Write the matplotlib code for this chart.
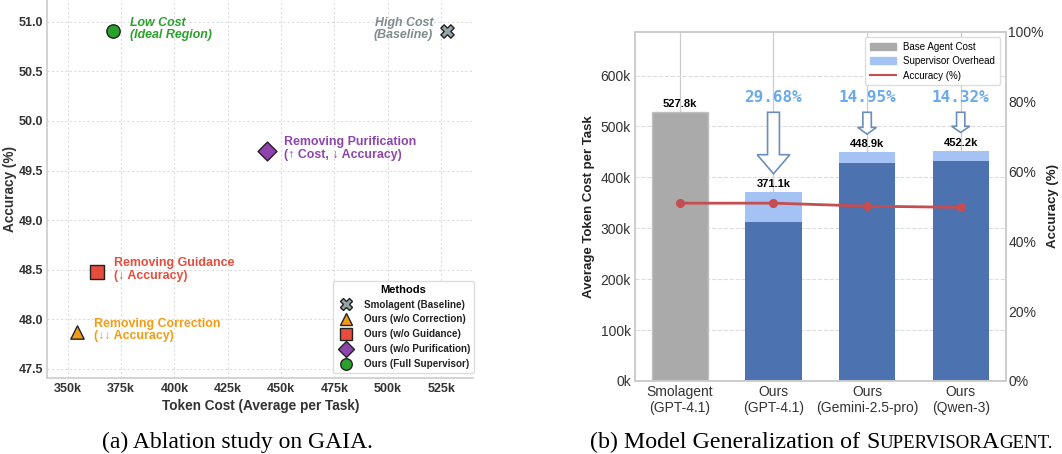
import matplotlib.pyplot as plt
from matplotlib.lines import Line2D
from matplotlib.patches import Patch, FancyArrow
from matplotlib.ticker import FuncFormatter

plt.rcParams['font.family'] = ['Liberation Sans', 'DejaVu Sans']

# ---- (a) ablation study data (token cost in k) ----
methods = ["Smolagent (Baseline)", "Ours (w/o Correction)", "Ours (w/o Guidance)",
           "Ours (w/o Purification)", "Ours (Full Supervisor)"]
abl_cost = [527.8, 354.2, 363.6, 443.3, 371.1]
abl_acc = [50.91, 47.87, 48.48, 49.70, 50.91]
abl_notes = ["High Cost\n(Baseline)", "Removing Correction\n(↓↓ Accuracy)",
             "Removing Guidance\n(↓ Accuracy)", "Removing Purification\n(↑ Cost, ↓ Accuracy)",
             "Low Cost\n(Ideal Region)"]
abl_markers = ["X", "^", "s", "D", "o"]
abl_colors = ["#95a5a6", "#f39c12", "#e74c3c", "#8e44ad", "#2ca02c"]
note_colors = ["#7f8c8d", "#f39c12", "#e74c3c", "#8e44ad", "#2ca02c"]

# ---- (b) model generalization data ----
models = ["Smolagent\n(GPT-4.1)", "Ours\n(GPT-4.1)", "Ours\n(Gemini-2.5-pro)", "Ours\n(Qwen-3)"]
base_cost = [527.8, 312.0, 428.0, 431.5]
overhead = [0.0, 59.1, 20.9, 20.7]
model_acc = [50.91, 50.91, 50.06, 49.70]
reduction = [29.68, 14.95, 14.32]

fig = plt.figure(figsize=(10.62, 4.54), dpi=100)

# ================= left panel =================
ax = fig.add_axes([0.0445, 0.168, 0.401, 0.832])
for i in range(len(methods)):
    ax.scatter(abl_cost[i], abl_acc[i], s=92, marker=abl_markers[i], c=abl_colors[i],
               edgecolors="#222222", linewidths=1, zorder=3)
    left_side = i == 0
    ax.annotate(abl_notes[i], (abl_cost[i], abl_acc[i]), xytext=(-14 if left_side else 17, 2),
                textcoords="offset pixels", ha="right" if left_side else "left", va="center",
                fontsize=8.9, fontweight="bold", color=note_colors[i],
                style="italic" if i in (0, 4) else "normal", linespacing=1.05)

ax.set_xlim(340.4, 540)
ax.set_ylim(47.41, 51.22)
ax.set_xticks(range(350, 526, 25))
ax.set_yticks([47.5, 48.0, 48.5, 49.0, 49.5, 50.0, 50.5, 51.0])
ax.xaxis.set_major_formatter(FuncFormatter(lambda v, p: f"{v:.0f}k"))
ax.yaxis.set_major_formatter(FuncFormatter(lambda v, p: f"{v:.1f}"))
ax.tick_params(axis="x", length=0, labelsize=9, colors="#333333", pad=4)
ax.tick_params(axis="y", length=0, labelsize=9, colors="#333333", pad=3)
for lab in ax.get_xticklabels() + ax.get_yticklabels():
    lab.set_fontweight("bold")
ax.grid(True, ls=(0, (2, 2)), color="#dddddd", lw=0.8)
ax.set_axisbelow(True)
for s in ["top", "right"]:
    ax.spines[s].set_visible(False)
for s in ["left", "bottom"]:
    ax.spines[s].set_color("#cccccc")
    ax.spines[s].set_linewidth(1.2)
ax.set_xlabel("Token Cost (Average per Task)", fontsize=9.8, fontweight="bold", color="#333333",
              labelpad=3)
ax.set_ylabel("Accuracy (%)", fontsize=9.8, fontweight="bold", color="#333333", labelpad=1)

handles = [Line2D([], [], ls="", marker=abl_markers[i], markersize=8.3, markerfacecolor=abl_colors[i],
                  markeredgecolor="#222222", markeredgewidth=1) for i in range(len(methods))]
leg = ax.legend(handles, methods, loc="lower right", bbox_to_anchor=(1.003, 0.012), borderaxespad=0,
                title="Methods", fontsize=7.1, title_fontsize=8, handletextpad=0.8,
                labelspacing=0.5, framealpha=1, edgecolor="#dddddd", borderpad=0.4)
leg.get_title().set_fontweight("bold")
for t in leg.get_texts():
    t.set_fontweight("bold")
    t.set_color("#222222")

# ================= right panel =================
bx = fig.add_axes([0.5979, 0.1608, 0.349, 0.7694])
xs = list(range(len(models)))
totals = [b + o for b, o in zip(base_cost, overhead)]
bx.bar(xs[0], base_cost[0], width=0.6, color="#aaaaaa", edgecolor="#c0c0c0", lw=1, zorder=2)
bx.bar(xs[1:], base_cost[1:], width=0.6, color="#4c72b0", zorder=2)
bx.bar(xs[1:], overhead[1:], bottom=base_cost[1:], width=0.6, color="#a4c2f4", zorder=2)
bx.set_ylim(0, max(totals) * 1.3)
for x, t in zip(xs, totals):
    bx.annotate(f"{t:.1f}k", (x, t), xytext=(0, 3), textcoords="offset pixels", ha="center",
                va="bottom", fontsize=8, fontweight="bold", zorder=5)

# hollow arrows showing token reduction vs. baseline
for x, t, r in zip(xs[1:], totals[1:], reduction):
    tip = t + 36
    length = base_cost[0] - tip
    bx.add_patch(FancyArrow(x, base_cost[0], 0, -length, width=0.07 + 0.00047 * length,
                            head_width=0.12 + 0.0019 * length, head_length=0.31 * length,
                            length_includes_head=True, facecolor="white", edgecolor="#6c8ebf",
                            lw=1.2, zorder=4))
    bx.annotate(f"{r:.2f}%", (x, base_cost[0]), xytext=(0, 15), textcoords="offset pixels",
                ha="center", va="center", fontsize=11.5, fontweight="bold",
                family="DejaVu Sans Mono", color="#6aaaea", zorder=5)

bx.set_xticks(xs)
bx.set_xticklabels(models)
bx.set_yticks(range(0, 601, 100))
bx.yaxis.set_major_formatter(FuncFormatter(lambda v, p: f"{v:.0f}k"))
bx.tick_params(length=0, labelsize=10, colors="#333333", pad=3)
bx.yaxis.grid(True, ls="--", color="#dddddd", lw=0.8)
bx.xaxis.grid(True, ls="-", color="#cccccc", lw=0.9)
bx.set_axisbelow(True)
bx.set_ylabel("Average Token Cost per Task", fontsize=9.5, fontweight="bold", color="#222222",
              labelpad=4)

tx = bx.twinx()
tx.plot(xs, model_acc, color="#c44e52", lw=2, marker="o", markersize=5.5, zorder=6)
tx.set_ylim(0, 100)
tx.set_yticks(range(0, 101, 20))
tx.yaxis.set_major_formatter(FuncFormatter(lambda v, p: f"{v:.0f}%"))
tx.tick_params(length=0, labelsize=10, colors="#333333", pad=2)
tx.set_ylabel("Accuracy (%)", fontsize=9.5, fontweight="bold", color="#222222", labelpad=2)
for a in (bx, tx):
    for s in a.spines.values():
        s.set_color("#cccccc")
        s.set_linewidth(1.2)

leg_h = [Patch(color="#aaaaaa"), Patch(color="#a4c2f4"), Line2D([], [], color="#c44e52", lw=1.5)]
tx.legend(leg_h, ["Base Agent Cost", "Supervisor Overhead", "Accuracy (%)"], loc="upper right",
          bbox_to_anchor=(0.985, 0.985), borderaxespad=0, fontsize=7, framealpha=1,
          edgecolor="#dddddd", labelspacing=0.45, handlelength=2.6, borderpad=0.5)

# ================= captions =================
fig.text(0.224, 0.0139, "(a) Ablation study on GAIA.", fontsize=17, family="Liberation Serif",
         ha="center", va="baseline")

cap_size = 17.3
cap_parts = [("(b) Model Generalization of", 1.0), ("S", 1.0), ("UPERVISOR", 0.78),
             ("A", 1.0), ("GENT.", 0.78)]
cap_texts = [fig.text(0, 0.0139, s, fontsize=cap_size * k, family="Liberation Serif", va="baseline")
             for s, k in cap_parts]
fig.canvas.draw()
rend = fig.canvas.get_renderer()
W = fig.get_figwidth() * fig.dpi
widths = [t.get_window_extent(rend).width / W for t in cap_texts]
gap = cap_size / 72 * fig.dpi * 0.25 / W
total_w = sum(widths) + gap
x0 = 0.7735 - total_w / 2
for i, t in enumerate(cap_texts):
    t.set_x(x0)
    x0 += widths[i] + (gap if i == 0 else 0)

fig.savefig("out.png", dpi=100)
